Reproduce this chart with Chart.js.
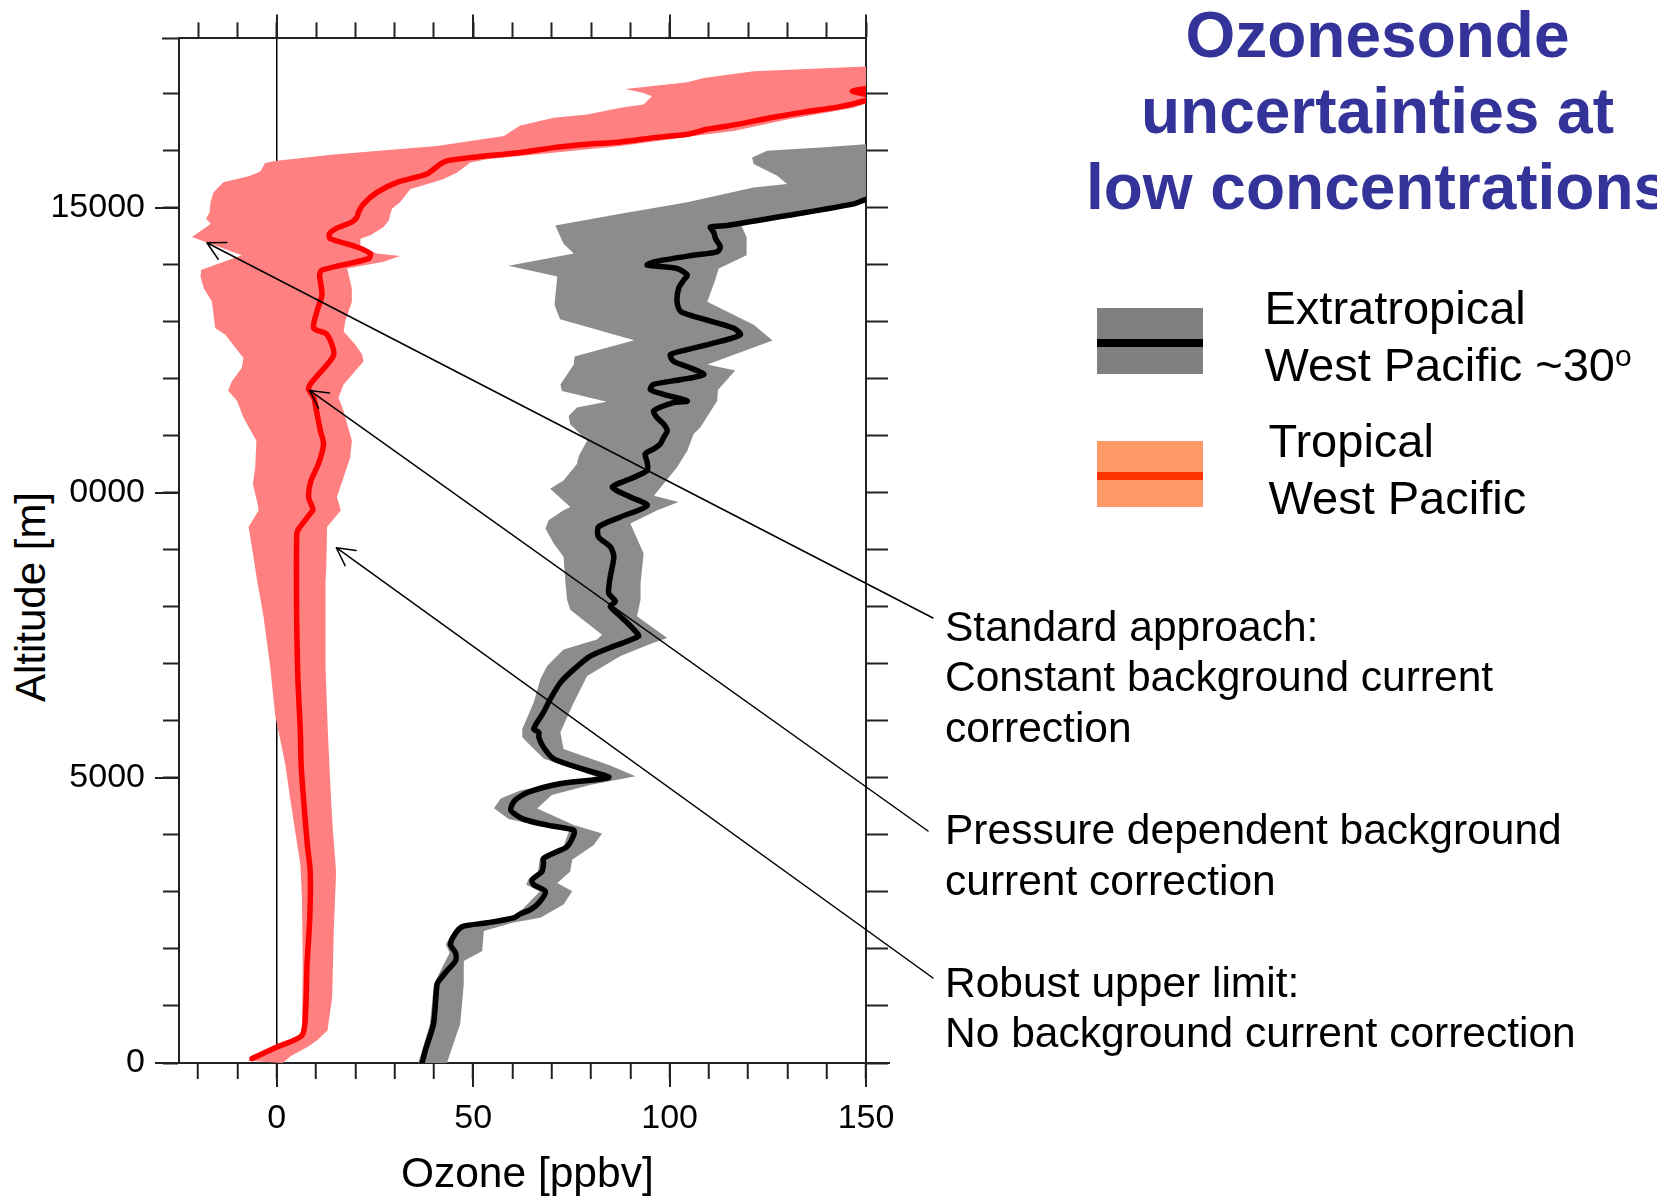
<!DOCTYPE html>
<html>
<head>
<meta charset="utf-8">
<title>Ozonesonde uncertainties at low concentrations</title>
<script src="https://cdn.jsdelivr.net/npm/chart.js"></script>
<style>
  html, body { margin: 0; padding: 0; background: #fff; }
  #page {
    position: relative; width: 1657px; height: 1197px; overflow: hidden;
    background: #fff; color: #000;
    font-family: 'Liberation Sans', Arial, sans-serif;
  }
  #chart { position: absolute; left: 0; top: 0; }
  .headline {
    position: absolute; left: 977.5px; top: -3.4px; width: 800px;
    text-align: center; white-space: nowrap;
    font-weight: bold; font-size: 64px; line-height: 76px; color: #333399;
  }
  .swatch { position: absolute; left: 1097px; width: 106px; height: 66px; }
  .swatch i { position: absolute; left: 0; right: 0; top: 31px; height: 8px; }
  .key { position: absolute; font-size: 47px; line-height: 56.7px; white-space: nowrap; }
  .key span { font-size: 30px; position: relative; top: -14.5px; }
  .note { position: absolute; left: 945px; font-size: 42.5px; line-height: 50.6px; white-space: nowrap; }
  #altBox { position: absolute; left: 0; top: 468px; width: 69px; height: 262px; background: #fff; }
  #altTitle {
    position: absolute; left: 30.6px; top: 597px; white-space: nowrap;
    font-size: 42px; line-height: 42px;
    transform: translate(-50%, -50%) rotate(-90deg);
  }
  #ozoneTitle {
    position: absolute; left: 527.3px; top: 1173px; white-space: nowrap;
    font-size: 42.5px; line-height: 42.5px;
    transform: translate(-50%, -50%);
  }
</style>
</head>
<body>
<div id="page">
  <canvas id="chart" width="1657" height="1197"></canvas>

  <div id="altBox"></div>
  <div id="altTitle">Altitude [m]</div>
  <div id="ozoneTitle">Ozone [ppbv]</div>

  <div class="headline">Ozonesonde<br>uncertainties at<br>low concentrations</div>

  <div class="swatch" style="top:308px;background:#808080"><i style="background:#000"></i></div>
  <div class="key" style="left:1264.5px;top:280.1px">Extratropical<br>West Pacific ~30<span>o</span></div>
  <div class="swatch" style="top:441px;background:#ff9966"><i style="background:#ff3300"></i></div>
  <div class="key" style="left:1268.5px;top:413.4px">Tropical<br>West Pacific</div>

  <div class="note" style="top:601.9px">Standard approach:<br>Constant background current<br>correction</div>
  <div class="note" style="top:805.2px">Pressure dependent background<br>current correction</div>
  <div class="note" style="top:957.8px">Robust upper limit:<br>No background current correction</div>
</div>

<script>
// Axis ranges: ozone [ppbv] and altitude [m]
const ozoneRange = [-24.9, 150];
const altitudeRange = [0, 17975];
const ozoneLabels = [0, 50, 100, 150];
const altitudeLabels = [0, 5000, 10000, 15000];

// Tropical West Pacific profile: [ozone ppbv, altitude m]
const tropicalMean = [
  [-6.3,77],[0,279],[6.4,483],[7.3,861],[7.7,1733],[8.4,2546],[8.5,3360],[7.7,3883],
  [6.8,4638],[6.2,5221],[6.0,5801],[5.4,6673],[5.1,7545],[5.0,8417],[5.1,9288],[5.6,9375],
  [8.5,9637],[9.2,9707],[8.1,9928],[8.7,10218],[10.6,10509],[11.9,10858],[11.1,11090],
  [10.1,11439],[9.4,11672],[8.1,11817],[8.5,11904],[10.6,12079],[14.5,12428],[12.8,12777],
  [9.4,12892],[10.2,13182],[11.5,13474],[10.9,13823],[11.5,13910],[23.4,14113],[23.8,14200],
  [20.4,14316],[13.6,14462],[13.4,14549],[15.3,14647],[19.1,14752],[20.4,14839],[20.8,14926],
  [22.1,15072],[25.5,15274],[30.6,15449],[38.2,15595],[41.6,15770],[43.3,15827],[49.3,15885],
  [57.8,15944],[62.0,15972],[70.5,16059],[79.0,16118],[87.5,16159],[96.0,16234],[104.5,16293],
  [109.5,16380],[117.2,16467],[125.7,16582],[134.1,16682],[142.7,16769],[147.7,16844],
  [152,16950],[146.5,17050],[152,17110]
];
const tropicalLow = [
  [-7.5,40],[-3,200],[3,380],[5.5,480],[6.4,570],[6.6,1733],[6.4,2894],[6.0,3477],[4.7,4058],
  [3.4,4638],[2.2,5221],[0.5,5801],[-0.4,6092],[-1.7,6964],[-3.4,7836],[-4.9,8417],[-6.9,9288],
  [-7.2,9405],[-4.6,9695],[-4.9,9812],[-6.1,10160],[-5.5,10452],[-5.2,10916],[-8.5,11323],
  [-10.1,11613],[-12.4,11800],[-11.5,11950],[-8.9,12195],[-8.5,12370],[-13.1,12776],
  [-15.7,12893],[-16.5,13357],[-18.6,13590],[-19.5,13823],[-19.3,13910],[-8.9,14171],
  [-21.6,14490],[-18.6,14636],[-16.8,14723],[-18,14810],[-17.1,14926],[-16.9,15100],
  [-16.1,15275],[-13.6,15450],[-7,15560],[-4.2,15640],[-3,15790],[0,15827],[14.5,15940],
  [40.8,16089],[57.8,16263],[62.0,16449],[70.5,16583],[79.0,16642],[87.5,16757],[93.4,16816],
  [95.5,16961],[93.4,17019],[88.7,17088],[104.5,17204],[108.7,17280],[121.4,17397],
  [150.3,17484],[165,17520]
];
const tropicalHigh = [
  [1.5,0],[3.5,120],[8,290],[10.2,395],[12.9,570],[14.1,1151],[14.5,2314],[15.1,3360],
  [14.3,4058],[13.8,4638],[13.0,5801],[12.4,6964],[12.4,8417],[12.6,8708],[12.8,9405],
  [16.3,9695],[15.3,9928],[17.0,10277],[18.7,10626],[19.1,10916],[17.0,11439],[15.7,11672],
  [17.0,11904],[22.1,12311],[21.7,12428],[20.0,12602],[17.0,12834],[17.4,13008],[19.1,13357],
  [19.1,13590],[17.9,13939],[27.2,14055],[31.4,14159],[25.5,14200],[21.3,14316],[21.3,14462],
  [23.8,14520],[27.2,14665],[28.5,14781],[29.3,14985],[31.4,15100],[34.0,15334],[39.9,15450],
  [42.5,15508],[45.9,15624],[47.6,15711],[49.3,15798],[53.5,15857],[62.0,15914],[87.5,16089],
  [106.1,16263],[116.3,16350],[129.9,16554],[146.9,16757],[150.3,16844],[165,16950]
];

// Extratropical West Pacific (~30°) profile: [ozone ppbv, altitude m]
const extratropicalMean = [
  [37.0,0],[37.8,221],[39.9,687],[40.8,1384],[41.6,1472],[43.3,1616],[45.5,1791],[45.5,1935],
  [44.2,2082],[45.9,2314],[47.6,2401],[53.5,2459],[60.3,2546],[62.0,2616],[64.6,2692],
  [66.7,2808],[68.4,3011],[65.4,3128],[65.0,3215],[67.5,3360],[67.9,3505],[67.9,3592],
  [71.4,3709],[73.9,3796],[75.6,4000],[75.6,4087],[68.8,4174],[62.8,4279],[59.6,4432],
  [60.5,4600],[64,4750],[72,4900],[84.5,5010],[79.0,5133],[70.5,5336],[67.9,5540],[66.7,5714],
  [66.7,5801],[65.4,5859],[67.9,6150],[69.6,6382],[72.2,6673],[75.6,6905],[79.8,7139],
  [85.8,7313],[92.1,7487],[90.9,7603],[87.5,7836],[84.9,8010],[86.2,8098],[84.5,8243],
  [84.9,8534],[85.8,8882],[84.9,9057],[81.9,9231],[81.9,9405],[87.5,9580],[94.3,9782],
  [90.0,9929],[85.4,10103],[90.0,10248],[94.3,10393],[94.3,10539],[93.8,10684],[95.9,10771],
  [97.6,10858],[98.5,10975],[99.4,11090],[98.5,11207],[96.8,11323],[95.9,11439],[101.0,11585],
  [104.5,11613],[98.5,11730],[95.1,11817],[95.9,11904],[103,11990],[108.7,12079],[105.3,12195],
  [101.0,12311],[100.2,12428],[104.5,12515],[112.9,12659],[118.0,12776],[116.3,12892],
  [107.8,13067],[102.8,13182],[101.9,13357],[102.3,13590],[103.6,13735],[104.5,13822],
  [101.9,13939],[94.3,13997],[96.0,14055],[106.1,14171],[112.1,14229],[112.9,14316],
  [111.7,14462],[111.2,14577],[110.4,14665],[114.6,14694],[129.9,14868],[146.9,15072],
  [150.3,15159],[160,15300]
];
const extratropicalLow = [
  [36,0],[37,221],[39,687],[40,1384],[44,1935],[43,2082],[45,2314],[52,2459],[59.5,2546],
  [62.5,2692],[67,3011],[63.5,3128],[64,3215],[66.5,3360],[67,3592],[73,3796],[74.5,4087],
  [66,4174],[59,4279],[55.3,4470],[57,4640],[62,4780],[70,4900],[82,5000],[77,5133],[68,5336],
  [65,5540],[62.5,5714],[62.5,5859],[65.4,6324],[67.1,6731],[68.8,6964],[73.0,7254],[81.5,7428],
  [82.8,7515],[74.7,7951],[73.9,8126],[73.5,8417],[73.0,8882],[70.5,9114],[68.4,9376],
  [69.2,9521],[73.0,9695],[74.7,9754],[69.6,10073],[73.0,10218],[76.4,10509],[76.9,10654],
  [79.0,10916],[74.7,11207],[74.3,11352],[76.4,11498],[84,11600],[72.6,11788],[72.2,11904],
  [75.6,12253],[75.8,12396],[91,12680],[72.1,13050],[70.7,13299],[71.4,13797],[59.0,13985],
  [75.6,14200],[73.0,14374],[70.9,14694],[87.5,14898],[104.5,15101],[121.4,15360],
  [129.9,15420],[127.4,15566],[121.4,15770],[121.0,15885],[124.8,16002],[138.4,16060],
  [149.9,16118],[165,16150]
];
const extratropicalHigh = [
  [43.3,0],[46.7,687],[47.6,1384],[47.6,1791],[52.3,1965],[52.7,2314],[60,2460],[67.1,2546],
  [73.0,2779],[75.2,3011],[71.4,3156],[74.7,3360],[75.2,3564],[80.7,3826],[82.8,4028],
  [75.6,4174],[66.3,4464],[70,4700],[80,4880],[91.3,5030],[84.9,5221],[73.0,5510],[72.2,5801],
  [75.6,6324],[79.0,6790],[87.5,7139],[95.9,7371],[99.4,7457],[91.7,7836],[92.6,8126],
  [92.6,8417],[93.4,8940],[90.0,9463],[97,9700],[102.3,9840],[96,9950],[101.9,10452],
  [104.5,10741],[106.1,11033],[107.8,11149],[112.1,11613],[112.3,11805],[116.7,12148],
  [109.6,12253],[126.2,12677],[121.4,12950],[109.6,13357],[111.6,13735],[112.5,13939],
  [119.6,14171],[119.6,14485],[118.2,14701],[119.7,14752],[131,14868],[148,15072],
  [151.5,15159],[165,15300]
];

// Points the three explanatory arrows end on: [ozone ppbv, altitude m]
const calloutTargets = [[-17.8, 14390], [8.35, 11800], [15.15, 9040]];

const toXY = rows => rows.map(([x, y]) => ({x, y}));
// Closed outline of an uncertainty band: lower edge upwards, upper edge back down
const bandOutline = (low, high) => toXY(low.concat(high.slice().reverse()));

const FONT = "'Liberation Sans', Arial, sans-serif";
const AXIS = '#222';

// Regular tick marks every `step` units; labels only where listed
const everyStep = step => scale => {
  const ticks = [];
  for (let v = Math.ceil(scale.min / step) * step; v <= scale.max + 1e-9; v += step) {
    ticks.push({value: Math.round(v)});
  }
  scale.ticks = ticks;
};

// Longer marks at the labelled values and the small overhangs at the frame corners
const axisDecor = {
  id: 'axisDecor',
  afterDraw(chart, _args, o) {
    const {ctx, chartArea: a} = chart;
    const sx = chart.scales.x, sy = chart.scales.y;
    ctx.save();
    ctx.strokeStyle = o.color;
    ctx.lineWidth = o.width;
    ctx.beginPath();
    ozoneLabels.forEach(v => {
      const px = Math.round(sx.getPixelForValue(v));
      ctx.moveTo(px, a.top); ctx.lineTo(px, a.top - o.major);
      ctx.moveTo(px, a.bottom); ctx.lineTo(px, a.bottom + o.major);
    });
    altitudeLabels.forEach(v => {
      const py = Math.round(sy.getPixelForValue(v));
      ctx.moveTo(a.left, py); ctx.lineTo(a.left - o.major, py);
    });
    ctx.moveTo(a.left, a.top); ctx.lineTo(a.left - o.minor, a.top);
    ctx.moveTo(a.right, a.bottom); ctx.lineTo(a.right + o.major, a.bottom);
    ctx.stroke();
    ctx.restore();
  }
};

// Thin arrows from the explanatory notes to the profile features
const callouts = {
  id: 'callouts',
  afterDraw(chart, _args, o) {
    const {ctx} = chart;
    const sx = chart.scales.x, sy = chart.scales.y;
    ctx.save();
    ctx.strokeStyle = '#000';
    ctx.lineWidth = o.width;
    ctx.lineCap = 'round';
    calloutTargets.forEach(([oz, alt], i) => {
      const tx = sx.getPixelForValue(oz), ty = sy.getPixelForValue(alt);
      const [ax, ay] = o.anchors[i];
      const ang = Math.atan2(ay - ty, ax - tx);
      ctx.beginPath();
      ctx.moveTo(ax, ay);
      ctx.lineTo(tx, ty);
      [-1, 1].forEach(s => {
        ctx.moveTo(tx, ty);
        ctx.lineTo(tx + o.head * Math.cos(ang + s * o.spread), ty + o.head * Math.sin(ang + s * o.spread));
      });
      ctx.stroke();
    });
    ctx.restore();
  }
};

const profileLine = (rows, color) => ({
  data: toXY(rows), showLine: true, fill: false, order: 0, clip: 0,
  borderColor: color, borderWidth: 5.5, borderJoinStyle: 'round', borderCapStyle: 'round',
  pointRadius: 0, pointHoverRadius: 0, tension: 0.25
});
const profileBand = (low, high, color) => ({
  data: bandOutline(low, high), showLine: true, fill: 'shape', order: 1, clip: 0,
  backgroundColor: color, borderColor: 'rgba(0,0,0,0)', borderWidth: 0,
  pointRadius: 0, pointHoverRadius: 0, tension: 0
});

const tickFont = {family: FONT, size: 34};
const frame = {display: true, color: AXIS, width: 2};

new Chart(document.getElementById('chart'), {
  type: 'scatter',
  data: {
    datasets: [
      profileBand(tropicalLow, tropicalHigh, '#ff8080'),
      profileBand(extratropicalLow, extratropicalHigh, '#8c8c8c'),
      profileLine(tropicalMean, '#ff0000'),
      profileLine(extratropicalMean, '#000000')
    ]
  },
  options: {
    responsive: false,
    animation: false,
    devicePixelRatio: 1,
    events: [],
    layout: {padding: 0},
    elements: {line: {capBezierPoints: false}},
    plugins: {
      legend: {display: false},
      tooltip: {enabled: false},
      axisDecor: {color: AXIS, width: 2, major: 24, minor: 17},
      callouts: {width: 1.5, head: 20, spread: 0.49, anchors: [[933, 618], [928, 831], [933, 978]]}
    },
    scales: {
      x: {
        type: 'linear', position: 'bottom', z: 1,
        min: ozoneRange[0], max: ozoneRange[1],
        afterBuildTicks: everyStep(10),
        afterFit: s => { s.height = 134; },
        border: frame,
        grid: {
          drawOnChartArea: true, tickLength: 16, tickWidth: 2, tickColor: AXIS, lineWidth: 1.5,
          color: c => (c.tick && c.tick.value === 0) ? '#000' : 'rgba(0,0,0,0)'
        },
        ticks: {
          autoSkip: false, maxRotation: 0, minRotation: 0, padding: 19, color: '#000', font: tickFont,
          callback: v => ozoneLabels.includes(v) ? String(v) : ''
        }
      },
      xTop: {
        type: 'linear', axis: 'x', position: 'top', z: 1,
        min: ozoneRange[0], max: ozoneRange[1],
        afterBuildTicks: everyStep(10),
        afterFit: s => { s.height = 32; },
        border: frame,
        grid: {drawOnChartArea: false, tickLength: 16, tickWidth: 2, tickColor: AXIS},
        ticks: {display: false}
      },
      y: {
        type: 'linear', position: 'left', z: 1,
        min: altitudeRange[0], max: altitudeRange[1],
        afterBuildTicks: everyStep(1000),
        afterFit: s => { s.width = 179; },
        border: frame,
        grid: {drawOnChartArea: false, tickLength: 16, tickWidth: 2, tickColor: AXIS},
        ticks: {
          autoSkip: false, padding: 18, color: '#000', font: tickFont,
          callback: v => altitudeLabels.includes(v) ? String(v) : ''
        }
      },
      yRight: {
        type: 'linear', axis: 'y', position: 'right', z: 1,
        min: altitudeRange[0], max: altitudeRange[1],
        afterBuildTicks: everyStep(1000),
        afterFit: s => { s.width = 791; },
        border: frame,
        grid: {drawOnChartArea: false, tickLength: 22, tickWidth: 2, tickColor: AXIS},
        ticks: {display: false}
      }
    }
  },
  plugins: [axisDecor, callouts]
});
</script>
</body>
</html>
